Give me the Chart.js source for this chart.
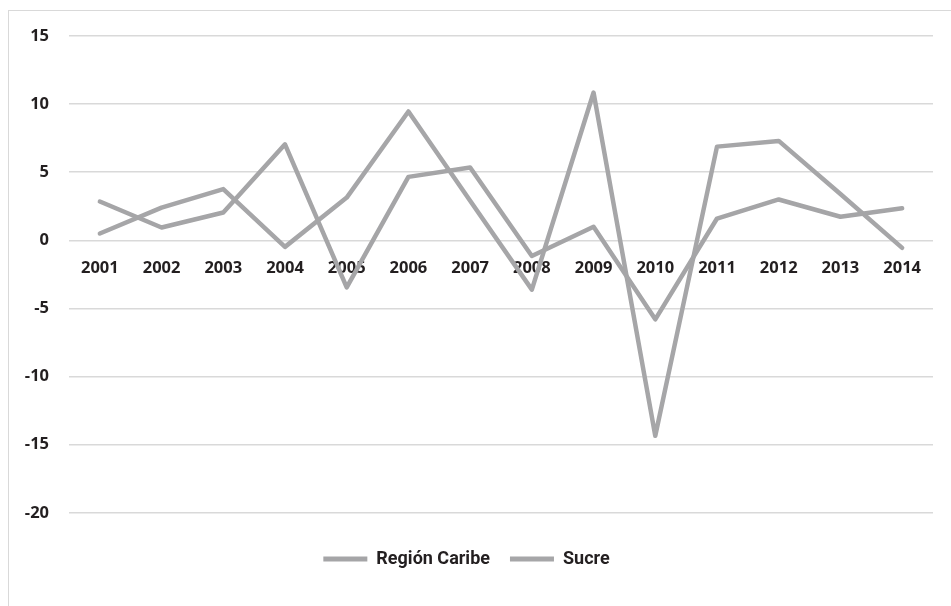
<!DOCTYPE html>
<html>
<head>
<meta charset="utf-8">
<script src="https://cdn.jsdelivr.net/npm/chart.js@4"></script>
<style>
  html, body { margin: 0; padding: 0; background: #ffffff; overflow: hidden; }
  #frame { position: absolute; left: 8px; top: 10px; width: 980px; height: 640px; border: 1px solid #d9d9d9; box-sizing: border-box; }
  #wrap { position: absolute; left: 0; top: 0; width: 951px; height: 606px; }
</style>
</head>
<body>
<div id="frame"></div>
<div id="wrap"><canvas id="c" width="951" height="606"></canvas></div>
<script>
const years = ['2001','2002','2003','2004','2005','2006','2007','2008','2009','2010','2011','2012','2013','2014'];
const regionCaribe = [2.85, 0.94, 2.04, 7.05, -3.45, 4.66, 5.35, -1.15, 1.0, -5.8, 1.6, 3.0, 1.73, 2.36];
const sucre = [0.5, 2.4, 3.76, -0.48, 3.14, 9.46, 2.9, -3.62, 10.85, -14.35, 6.88, 7.3, 3.4, -0.55];
const seriesNames = ['Región Caribe', 'Sucre'];
const yTicks = [15, 10, 5, 0, -5, -10, -15, -20];

const tickFont = { family: "'Open Sans', Lato, sans-serif", size: 16.5, weight: '700' };

new Chart(document.getElementById('c'), {
  type: 'line',
  data: {
    labels: years,
    datasets: [
      { label: seriesNames[0], data: regionCaribe, borderColor: '#a5a5a7', backgroundColor: '#a5a5a7', borderWidth: 4.5, pointRadius: 0, tension: 0, borderJoinStyle: 'round', borderCapStyle: 'round' },
      { label: seriesNames[1], data: sucre, borderColor: '#a6a6a8', backgroundColor: '#a6a6a8', borderWidth: 4.5, pointRadius: 0, tension: 0, borderJoinStyle: 'round', borderCapStyle: 'round' }
    ]
  },
  options: {
    responsive: false,
    animation: false,
    layout: { padding: { left: 0, right: 18, top: 36, bottom: 28 } },
    scales: {
      x: {
        position: { y: 0 },
        offset: true,
        grid: { display: false, drawTicks: false },
        border: { display: false },
        ticks: { color: '#231f20', font: tickFont, padding: 18, maxRotation: 0, autoSkip: false }
      },
      y: {
        min: -20, max: 15,
        afterFit: (s) => { s.width = 69; },
        afterBuildTicks: (s) => { s.ticks = yTicks.map(v => ({ value: v })); },
        grid: { color: '#d9d9d9', lineWidth: 1.5, drawTicks: false },
        border: { display: false },
        ticks: { color: '#231f20', font: tickFont, padding: 20 }
      }
    },
    plugins: {
      tooltip: { enabled: false },
      legend: {
        position: 'bottom',
        title: { display: true, text: ' ', font: { size: 1 }, padding: { top: 16, bottom: 0 } },
        labels: {
          boxWidth: 44, boxHeight: 5, padding: 20, color: '#231f20',
          font: { family: "Roboto, 'Open Sans', sans-serif", size: 18, weight: '700' },
          generateLabels: (chart) => chart.data.datasets.map((d, i) => ({
            text: d.label, fillStyle: d.borderColor, strokeStyle: d.borderColor, lineWidth: 0, hidden: false, datasetIndex: i, fontColor: '#231f20'
          }))
        }
      }
    }
  }
});
</script>
</body>
</html>
